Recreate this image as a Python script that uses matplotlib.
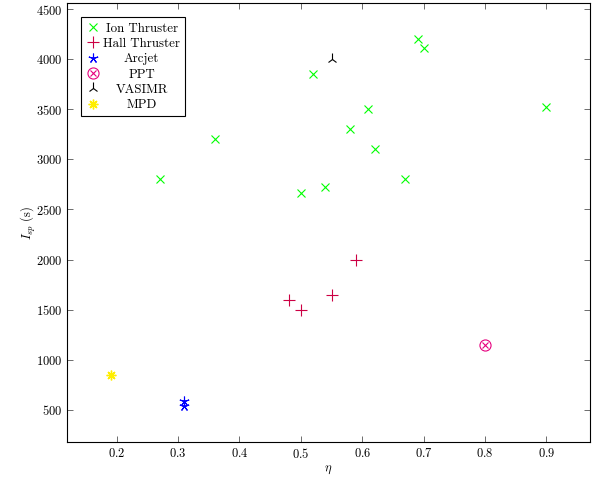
import matplotlib
matplotlib.use("Agg")
import matplotlib.pyplot as plt
from matplotlib.lines import Line2D

plt.rcParams["font.family"] = "serif"
plt.rcParams["font.serif"] = ["cmr10", "DejaVu Serif"]
plt.rcParams["mathtext.fontset"] = "cm"
plt.rcParams["axes.formatter.use_mathtext"] = True
plt.rcParams["font.size"] = 9

# efficiency vs specific impulse
ion_eta = [0.27, 0.36, 0.50, 0.52, 0.54, 0.58, 0.61, 0.62, 0.67, 0.69, 0.70, 0.90]
ion_isp = [2800, 3200, 2660, 3850, 2720, 3300, 3500, 3100, 2800, 4200, 4110, 3520]
hall_eta = [0.48, 0.50, 0.55, 0.59]
hall_isp = [1600, 1500, 1650, 2000]
arcjet_eta = [0.31, 0.31]
arcjet_isp = [590, 540]
ppt_eta = [0.80]
ppt_isp = [1150]
vasimr_eta = [0.55]
vasimr_isp = [4000]
mpd_eta = [0.19]
mpd_isp = [850]

labels = ["Ion Thruster", "Hall Thruster", "Arcjet", "PPT", "VASIMR", "MPD"]
xticks = [0.2, 0.3, 0.4, 0.5, 0.6, 0.7, 0.8, 0.9]
yticks = [500, 1000, 1500, 2000, 2500, 3000, 3500, 4000, 4500]

fig = plt.figure(figsize=(5.94, 4.79), dpi=100)
ax = fig.add_axes([67 / 594, 1 - 442 / 479, 523 / 594, 439 / 479])

# marker styles: (marker, color, size, edge width)
styles = {
    "ion": dict(marker="x", color="#00ff00", ms=6, mew=0.8),
    "hall": dict(marker="+", color="#cc0044", ms=8, mew=0.8),
    "arc": dict(marker=(5, 2, 0), color="blue", ms=7, mew=0.8),
    "ppt_o": dict(marker="o", mfc="none", color="#e6007e", ms=8, mew=0.8),
    "ppt_x": dict(marker="x", color="#e6007e", ms=5, mew=0.8),
    "vas": dict(marker="2", color="black", ms=8, mew=0.8),
    "mpd": dict(marker=(8, 2, 0), color="#ffee00", ms=7, mew=1.0),
}

ax.plot(ion_eta, ion_isp, ls="none", **styles["ion"])
ax.plot(hall_eta, hall_isp, ls="none", **styles["hall"])
ax.plot(arcjet_eta, arcjet_isp, ls="none", **styles["arc"])
ax.plot(ppt_eta, ppt_isp, ls="none", **styles["ppt_o"])
ax.plot(ppt_eta, ppt_isp, ls="none", **styles["ppt_x"])
ax.plot(vasimr_eta, vasimr_isp, ls="none", **styles["vas"])
ax.plot(mpd_eta, mpd_isp, ls="none", **styles["mpd"])

handles = [
    Line2D([], [], ls="none", **styles["ion"]),
    Line2D([], [], ls="none", **styles["hall"]),
    Line2D([], [], ls="none", **styles["arc"]),
    (Line2D([], [], ls="none", **styles["ppt_o"]), Line2D([], [], ls="none", **styles["ppt_x"])),
    Line2D([], [], ls="none", **styles["vas"]),
    Line2D([], [], ls="none", **styles["mpd"]),
]

leg = ax.legend(handles, labels,
                loc="upper left", fancybox=False, framealpha=1, edgecolor="black",
                handlelength=1.0, handletextpad=0.3, borderpad=0.4, labelspacing=0.25,
                borderaxespad=1.1, fontsize=9.3)
leg.get_frame().set_linewidth(0.8)

ax.set_xlim(0.119, 0.971)
ax.set_ylim(180, 4560)
ax.set_xticks(xticks)
ax.set_yticks(yticks)
ax.tick_params(direction="in", top=True, right=True, length=4, width=0.6, color="#555555")
for s in ax.spines.values():
    s.set_linewidth(0.8)
ax.set_xlabel(r"$\eta$", labelpad=2)
ax.set_ylabel(r"$I_{sp}$ (s)", labelpad=-2)

# center legend texts like pgfplots does
fig.canvas.draw()
r = fig.canvas.get_renderer()
texts = leg.get_texts()
widths = [t.get_window_extent(r).width for t in texts]
maxw = max(widths)
for t, w in zip(texts, widths):
    t.set_x((maxw - w) / 2)

fig.savefig("out.png", dpi=100)
